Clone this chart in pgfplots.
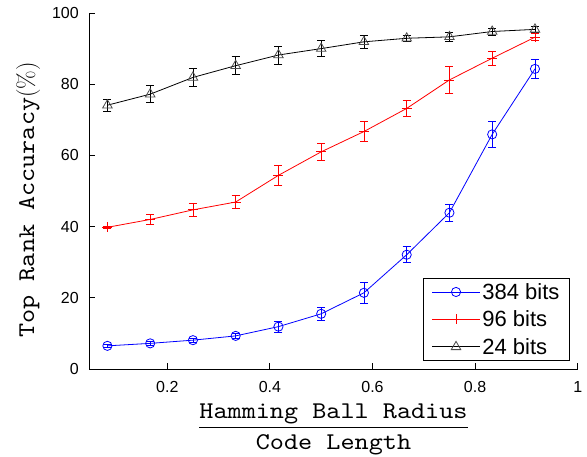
\documentclass[border=0pt]{standalone}
\usepackage{fontspec}
\usepackage{pgfplots}
\usepackage{pgfplotstable}
\pgfplotsset{compat=1.18}
\newfontfamily\helv{Liberation Sans}
\newfontfamily\ttwide{lmmono10-regular}[Extension=.otf, FakeStretch=1.12]

\newcommand\fraclabel{%
  \begingroup\setbox0=\hbox{\ttwide Hamming Ball Radius}%
  \vbox{\copy0\kern2.7pt\hrule height1.6pt\kern6pt\hbox to \wd0{\hss\ttwide Code Length\hss}}\endgroup}

\pgfplotstableread{
x       y      e
0.0833  6.5    0.5
0.1667  7.2    0.5
0.25    8.1    0.5
0.3333  9.3    0.7
0.4167  11.9   1.5
0.5     15.5   1.8
0.5833  21.4   3.0
0.6667  32.1   2.2
0.75    43.9   2.3
0.8333  65.9   3.6
0.9167  84.3   2.8
}\tblue
\pgfplotstableread{
x       y      e
0.0833  39.8   0.3
0.1667  42.0   1.5
0.25    44.7   1.8
0.3333  46.9   1.8
0.4167  54.4   2.7
0.5     61.0   2.3
0.5833  66.7   2.9
0.6667  73.2   2.2
0.75    81.2   3.8
0.8333  87.3   2.0
0.9167  93.2   1.0
}\tred
\pgfplotstableread{
x       y      e
0.0833  74.1   1.7
0.1667  77.2   2.4
0.25    81.9   2.5
0.3333  85.2   2.5
0.4167  88.2   2.5
0.5     90.0   2.3
0.5833  91.9   1.8
0.6667  92.9   0.9
0.75    93.3   1.3
0.8333  94.8   1.0
0.9167  95.4   0.8
}\tblack

\begin{document}
\begin{tikzpicture}
\begin{axis}[
  name=ax,
  scale only axis,
  width=488.4pt, height=356pt,
  xmin=0.048, xmax=1,
  ymin=0, ymax=100,
  axis x line=bottom, axis y line=left,
  axis line style={-, line width=0.8pt},
  tick align=inside,
  major tick length=6pt,
  tick style={line width=0.8pt, black},
  xtick={0.2,0.4,0.6,0.8,1},
  ytick={0,20,40,60,80,100},
  /pgf/number format/assume math mode=true,
  ticklabel style={font=\helv\fontsize{16}{19}\selectfont},
  xticklabel style={yshift=-9pt},
  yticklabel style={xshift=-7pt},
  xlabel={\fraclabel},
  xlabel style={font=\fontsize{24}{28}\selectfont, at={(axis description cs:0.5,-0.097)}, anchor=north, inner sep=0pt},
  ylabel={{\ttwide Top Rank Accuracy}(\%)},
  ylabel style={font=\fontsize{24}{28}\selectfont, at={(axis description cs:-0.125,0.475)}, anchor=center, rotate=0},
  legend style={at={(rel axis cs:0.984,0.0225)}, anchor=south east,
    font=\helv\fontsize{22}{26}\selectfont, draw=black, line width=0.8pt,
    inner xsep=8pt, inner ysep=3pt, row sep=6pt},
  legend cell align=left,
  legend image code/.code={\draw[mark repeat=2,mark phase=2,#1] plot coordinates {(0pt,0pt) (24pt,0pt) (48pt,0pt)};},
  error bars/error mark options={rotate=90, mark size=4pt, line width=0.8pt},
]
\addplot[blue, line width=0.8pt, mark=o, mark size=4.6pt, mark options={solid},
  error bars/.cd, y dir=both, y explicit, error bar style={line width=0.8pt, blue}]
  table[x=x, y=y, y error=e] {\tblue};
\addlegendentry{384 bits}
\addplot[red, line width=0.8pt, mark=+, mark size=5pt, mark options={solid},
  error bars/.cd, y dir=both, y explicit, error bar style={line width=0.8pt, red}]
  table[x=x, y=y, y error=e] {\tred};
\addlegendentry{96 bits}
\addplot[black, line width=0.8pt, mark=triangle, mark size=5.5pt, mark options={solid, draw=black!70!white},
  error bars/.cd, y dir=both, y explicit, error bar style={line width=0.8pt, black}]
  table[x=x, y=y, y error=e] {\tblack};
\addlegendentry{24 bits}
\end{axis}
\pgfresetboundingbox
\path[use as bounding box] ([xshift=-89.3pt,yshift=-88pt]ax.south west) rectangle ([xshift=9.3pt,yshift=13pt]ax.north east);
\end{tikzpicture}
\end{document}
